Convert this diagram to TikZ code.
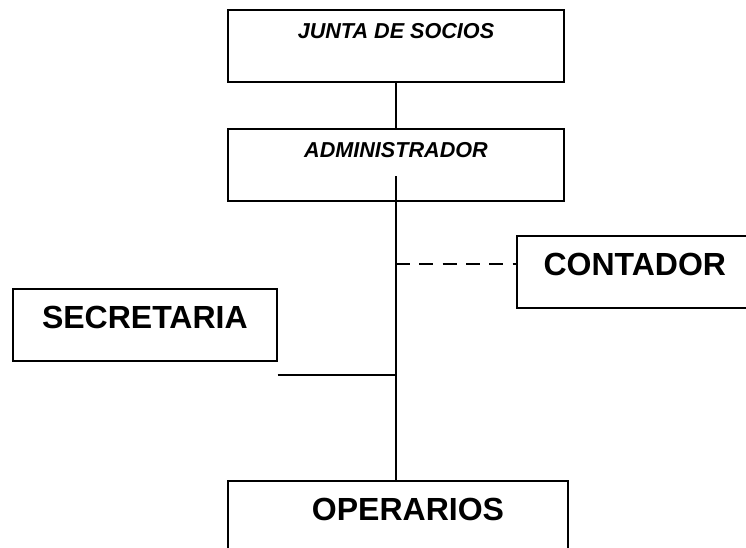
\documentclass[tikz,border=0pt]{standalone}
\usepackage{fontspec}
\setmainfont{Liberation Sans}
\usetikzlibrary{positioning}

\begin{document}
\begin{tikzpicture}[
        x=0.75pt, y=-0.75pt,
        every node/.style={
            rectangle, draw=black, line width=1.3pt, inner sep=0pt, align=center
        },
        topbox/.style={
            minimum width=252pt, text height=21.5pt, text depth=32.5pt,
            font=\fontsize{16.2}{19}\selectfont\bfseries\itshape
        },
        bigbox/.style={
            text height=30pt, text depth=24pt,
            font=\fontsize{24}{28}\selectfont\bfseries
        },
        link/.style={line width=1.1pt, color=black}
    ]
        \clip (0,0) rectangle (746,548);
        \useasboundingbox (0,0) rectangle (746,548);

        % Boxes
        \node (junta) [topbox, anchor=north] at (396,9) {JUNTA DE SOCIOS};
        \node (admin) [topbox, anchor=north] at (396,128) {ADMINISTRADOR};
        \node (cont) [bigbox, anchor=north west, text width=170pt, align=left, inner xsep=20pt] at (516,235) {CONTADOR};
        \node (secr) [bigbox, anchor=north west, minimum width=198pt] at (12,288) {SECRETARIA};
        \node (oper) [bigbox, anchor=north, minimum width=255pt] at (398,480) {\hspace*{15pt}OPERARIOS};

        % Connectors
        \coordinate (trunk) at ([yshift=19pt]admin.south);
        \coordinate (dash) at ([yshift=6pt]cont.west);
        \coordinate (sec) at ([yshift=-10pt]secr.south east);
        \draw[link] (junta) -- (admin);
        \draw[link] (trunk) -- (trunk |- oper.north);
        \draw[link, dash pattern=on 10.5pt off 7pt] (dash -| trunk) -- (dash);
        \draw[link] (sec) -- (sec -| trunk);

    \end{tikzpicture}
\end{document}
